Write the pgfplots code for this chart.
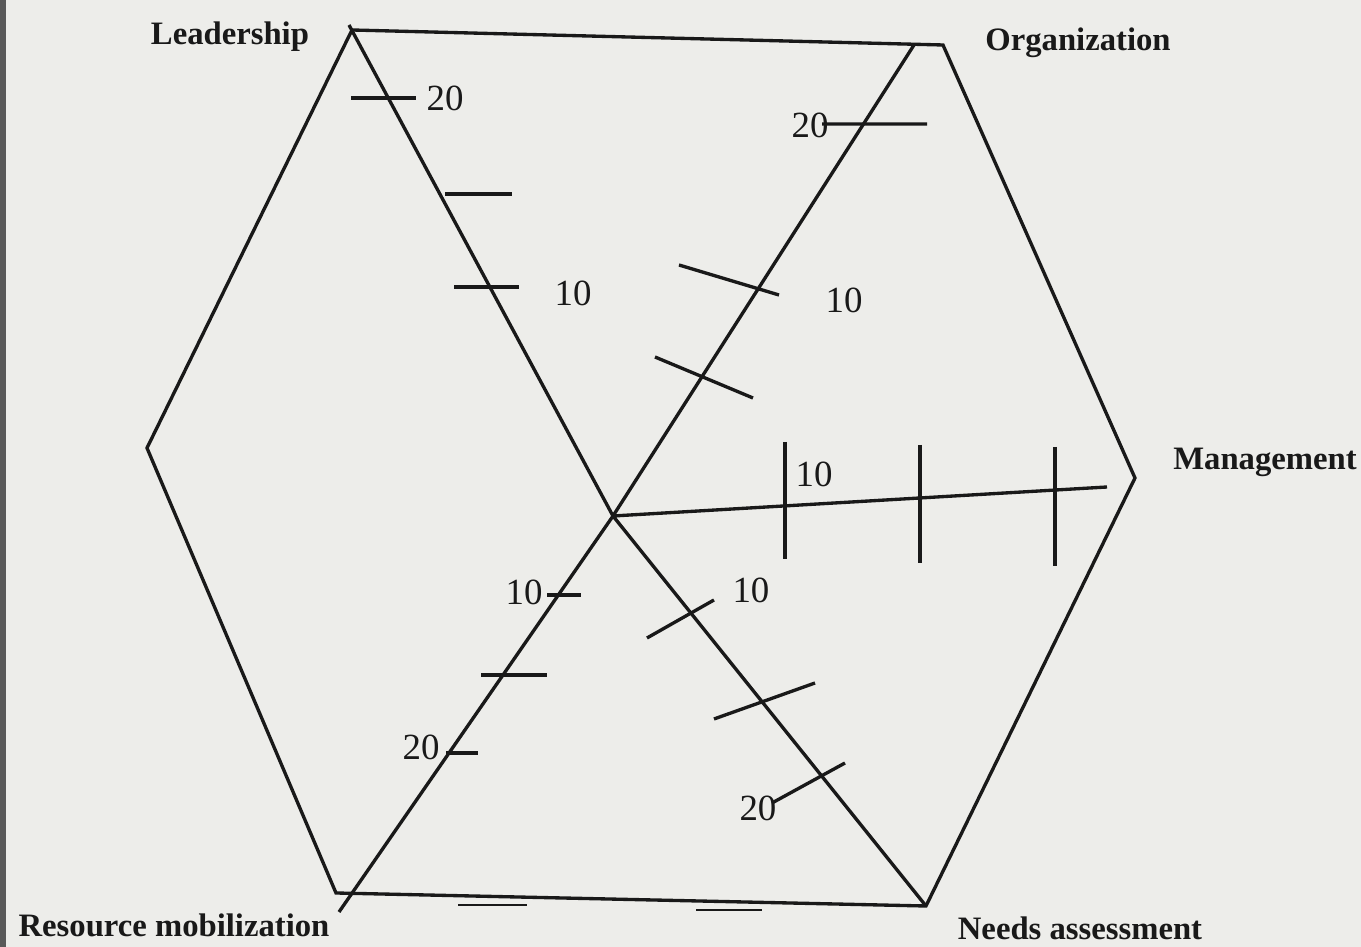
\documentclass[border=0pt]{standalone}
\usepackage{fontspec}
\setmainfont{Liberation Serif}
\usepackage{pgfplots}
\pgfplotsset{compat=1.18}
\definecolor{paper}{RGB}{237,237,234}
\definecolor{ink}{RGB}{25,25,25}
\tikzset{
  ln/.style={draw=ink, line width=0.95pt, mark=none, solid},
  lbl/.style={font=\fontsize{9.3}{11}\selectfont\bfseries, text=ink},
  num/.style={font=\fontsize{10.5}{12}\selectfont, text=ink}}

\begin{document}
\begin{tikzpicture}
\begin{axis}[
  width=13.61cm, height=9.47cm, scale only axis,
  xmin=0, xmax=1361, ymin=0, ymax=947, y dir=reverse,
  hide axis, clip=false,
  unbounded coords=jump]
% page background and dark margin of the scan
\addplot[fill=paper, draw=none, mark=none] coordinates {(0,0) (1361,0) (1361,947) (0,947)} -- cycle;
\addplot[fill=black!65, draw=none, mark=none] coordinates {(0,0) (6,0) (6,947) (0,947)} -- cycle;
% hexagon
\addplot[ln] coordinates {(352,30) (943,45) (1135,478) (926,906) (336,893) (147,448) (352,30)};
% spokes from the centre
\addplot[ln] coordinates {(613,516) (349,25) (nan,nan) (613,516) (914,45) (nan,nan)
  (613,516) (1107,487) (nan,nan) (613,516) (926,906) (nan,nan) (613,516) (339,912)};
% tick marks on the spokes
\addplot[ln] coordinates {(351,98) (416,98) (nan,nan) (445,194) (512,194) (nan,nan) (454,287) (519,287)};
\addplot[ln] coordinates {(822,124) (927,124) (nan,nan) (679,265) (779,295) (nan,nan) (655,357) (753,398)};
\addplot[ln] coordinates {(785,442) (785,559) (nan,nan) (920,445) (920,563) (nan,nan) (1055,447) (1055,566)};
\addplot[ln] coordinates {(647,638) (714,600) (nan,nan) (714,719) (815,683) (nan,nan) (772,803) (845,763)};
\addplot[ln] coordinates {(547,595) (581,595) (nan,nan) (481,675) (547,675) (nan,nan) (446,753) (478,753)};
% short dashes under the base
\addplot[ln, line width=0.6pt] coordinates {(458,905) (527,905) (nan,nan) (696,910) (762,910)};
% labels
\node[lbl] at (axis cs:230,37) {Leadership};
\node[lbl] at (axis cs:1078,43) {Organization};
\node[lbl] at (axis cs:1265,462) {Management};
\node[lbl] at (axis cs:1080,928) {Needs assessment};
\node[lbl] at (axis cs:174,925) {Resource mobilization};
\node[num] at (axis cs:445,98) {20};
\node[num] at (axis cs:573,293) {10};
\node[num] at (axis cs:810,125) {20};
\node[num] at (axis cs:844,300) {10};
\node[num] at (axis cs:814,474) {10};
\node[num] at (axis cs:751,590) {10};
\node[num] at (axis cs:758,808) {20};
\node[num] at (axis cs:524,592) {10};
\node[num] at (axis cs:421,747) {20};
\end{axis}
\pgfresetboundingbox
\path (current axis.south west) rectangle (current axis.north east);
\end{tikzpicture}
\end{document}
